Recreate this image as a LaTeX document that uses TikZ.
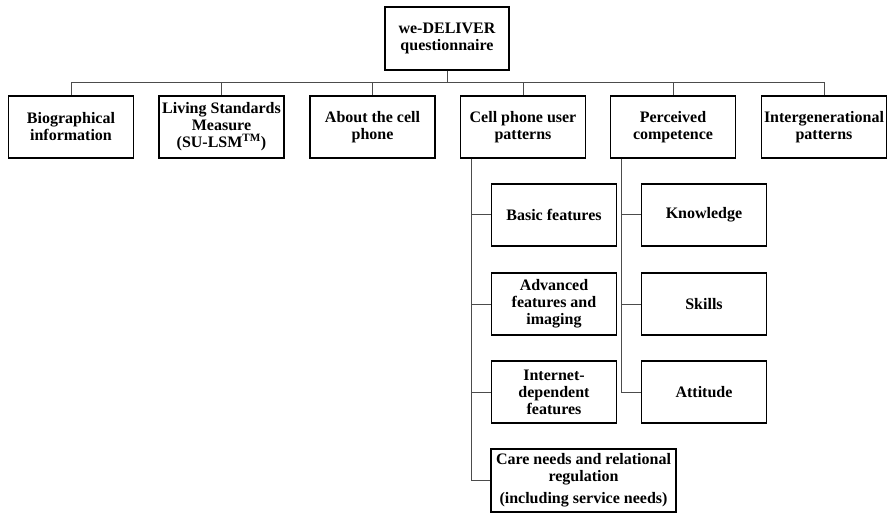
\documentclass[tikz,border=0pt]{standalone}
\usepackage{fontspec}
\setmainfont{Liberation Serif}
\usepackage{tikz}
\usetikzlibrary{calc}
\tikzset{
	box/.style={draw, line width=1.8pt, minimum width=125pt, minimum height=62pt, inner sep=1pt, align=center, font=\fontsize{16}{17}\selectfont\bfseries},
	link/.style={draw=black!70, line width=1pt}
}
\begin{document}
\begin{tikzpicture}[x=1pt, y=1pt]
	\useasboundingbox (0,0) rectangle (889,-513);
	% top
	\node[box, minimum width=124pt, minimum height=63pt] (root) at (447,-38.5) {we-DELIVER\\questionnaire};
	% first level
	\node[box] (bio) at (71,-127) {Biographical\\information};
	\node[box] (lsm) at (221.5,-127) {Living Standards\\Measure\\(SU-LSM\textsuperscript{TM})};
	\node[box] (about) at (372.5,-127) {About the cell\\phone};
	\node[box] (cell) at (523,-127) {Cell phone user\\patterns};
	\node[box] (comp) at (673,-127) {Perceived\\competence};
	\node[box] (inter) at (824,-127) {Intergenerational\\patterns};
	% second level
	\node[box] (basic) at (554,-215) {Basic features};
	\node[box] (adv) at (554,-304) {Advanced\\features and\\imaging};
	\node[box] (net) at (554,-392) {Internet-\\dependent\\features};
	\node[box, minimum width=185pt, minimum height=63pt] (care) at (583.5,-480.5) {Care needs and relational\\regulation\\[5pt](including service needs)};
	\node[box] (know) at (704,-215) {Knowledge};
	\node[box] (skill) at (704,-304) {Skills};
	\node[box] (att) at (704,-392) {Attitude};
	% links
	\coordinate (bus) at (447,-83);
	\foreach \n in {bio,lsm,about,cell,comp,inter}
		\draw[link] (root.south) -- (bus) -| (\n.north);
	\coordinate (cellstem) at ($(cell.south west)+(12,0)$);
	\coordinate (compstem) at ($(comp.south west)+(12,0)$);
	\foreach \n in {basic,adv,net,care}
		\draw[link] (cellstem) |- (\n.west);
	\foreach \n in {know,skill,att}
		\draw[link] (compstem) |- (\n.west);
\end{tikzpicture}
\end{document}
